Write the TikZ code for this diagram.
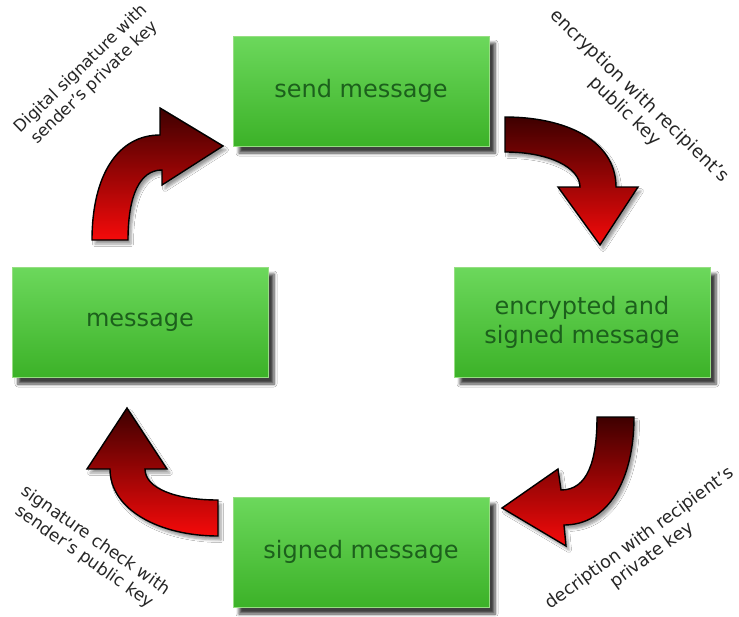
\documentclass[tikz,border=0pt]{standalone}
\usepackage{fontspec}
\setmainfont{DejaVu Sans}
\usetikzlibrary{shadows.blur}

\definecolor{boxtop}{RGB}{108,216,92}
\definecolor{boxbot}{RGB}{60,178,40}
\definecolor{boxedge}{RGB}{150,222,130}
\definecolor{boxtext}{RGB}{28,96,28}
\definecolor{arrowtop}{RGB}{62,0,0}
\definecolor{arrowbot}{RGB}{245,10,10}

\tikzset{
  x=1pt, y=-1pt,
  box/.style={rectangle, minimum width=256pt, minimum height=110pt,
    top color=boxtop, bottom color=boxbot, draw=boxedge, line width=0.8pt,
    text=boxtext, align=center, font=\fontsize{24}{29}\selectfont,
    blur shadow={shadow xshift=6pt, shadow yshift=-7pt, shadow blur steps=6,
      shadow blur radius=3pt, shadow opacity=75}},
  blockarrow/.style={top color=arrowtop, bottom color=arrowbot,
    draw=black, line width=1.4pt, line join=miter,
    blur shadow={shadow xshift=3pt, shadow yshift=-4pt, shadow blur steps=5,
      shadow blur radius=2.5pt, shadow opacity=40}},
  steplabel/.style={align=center, text=black!85}
}

\begin{document}
\begin{tikzpicture}
\useasboundingbox[fill=white] (0,0) rectangle (739,616);

% the four stages of the message
\node[box] (send)   at (361,91)  {send message};
\node[box] (enc)    at (582,322) {encrypted and\\signed message};
\node[box] (signed) at (361,552) {signed message};
\node[box] (msg)    at (140,322) {message};

% curved block arrows between the stages
\path[blockarrow]
  (92,240) .. controls (92,175) and (118,135) .. (160,135)
  -- (160,108) -- (223,146) -- (162,185) -- (162,170)
  .. controls (140,170) and (128,195) .. (128,240) -- cycle;

\path[blockarrow]
  (505,117) .. controls (565,117) and (616,140) .. (616,187)
  -- (638,187) -- (600,245) -- (558,187) -- (580,187)
  .. controls (580,168) and (550,152) .. (505,152) -- cycle;

\path[blockarrow]
  (634,417) .. controls (634,480) and (608,525) .. (564,525)
  -- (566,546) -- (502,508) -- (558,469) -- (561,490)
  .. controls (588,490) and (597,460) .. (597,417) -- cycle;

\path[blockarrow]
  (218,536) .. controls (160,536) and (110,510) .. (110,469)
  -- (87,469) -- (127,408) -- (167,469) -- (145,469)
  .. controls (145,488) and (175,500) .. (218,500) -- cycle;

% step descriptions
\node[steplabel, rotate=44, font=\fontsize{16.5}{19.5}\selectfont]
  (l1) at (88,76) {Digital signature with\\sender's private key};
\node[steplabel, rotate=-44, font=\fontsize{18}{21}\selectfont]
  (l2) at (632,104) {encryption with recipient's\\public key};
\node[steplabel, rotate=36, font=\fontsize{17.5}{20.5}\selectfont]
  (l3) at (646,547) {decription with recipient's\\private key};
\node[steplabel, rotate=-35, font=\fontsize{17}{20}\selectfont]
  (l4) at (90,549) {signature check with\\sender's public key};
\end{tikzpicture}
\end{document}
